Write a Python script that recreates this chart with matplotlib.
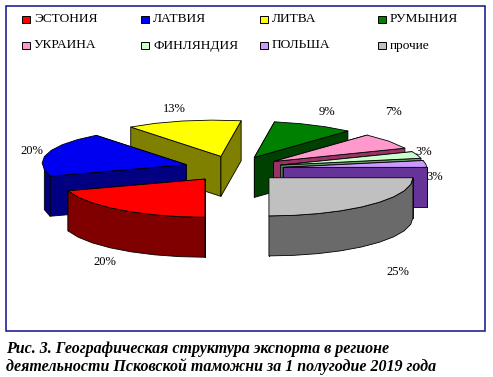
import numpy as np
import matplotlib
matplotlib.use('Agg')
import matplotlib.pyplot as plt
from matplotlib.patches import Polygon, Rectangle

countries = ['ЭСТОНИЯ', 'ЛАТВИЯ', 'ЛИТВА', 'РУМЫНИЯ', 'УКРАИНА', 'ФИНЛЯНДИЯ', 'ПОЛЬША', 'прочие']
shares = [20, 20, 13, 9, 7, 3, 3, 25]
top_colors = ['#ff0000', '#0000f0', '#ffff00', '#008000', '#ff99cc', '#ccffcc', '#cc99ff', '#c0c0c0']
side_colors = ['#800000', '#000080', '#808000', '#004000', '#993366', '#669966', '#663399', '#6a6a6a']
caption = ['Рис. 3. Географическая структура экспорта в регионе',
           'деятельности Псковской таможни за 1 полугодие 2019 года']

# pie geometry in pixels
cx, cy = 234, 168.5
radius = 144
squash = 0.265
explode = 49.4
depth = 40
skew = 0.18
back_squeeze = 0.95
arc_step = 10

plt.rcParams['font.family'] = ['Liberation Serif', 'DejaVu Serif']

fig = plt.figure(figsize=(4.93, 3.77), dpi=100)
ax = fig.add_axes([0, 0, 1, 1])
ax.set_xlim(0, 493)
ax.set_ylim(377, 0)
ax.axis('off')

ax.add_patch(Rectangle((5.5, 5.5), 479.5, 325.5, fill=False, edgecolor='#10108a', linewidth=1.1))


def to_screen(ax0, ay0, angle, r):
    # angle in degrees, clockwise from the bottom of the pie
    t = np.radians(angle)
    x = ax0 - r * np.sin(t)
    y = ay0 + r * np.cos(t) * squash
    # back of the pie leans to the left and is a little flatter
    above = np.minimum(y - cy, 0)
    x = x + skew * above
    y = y - (1 - back_squeeze) * above
    return x, y


def wall(xs, ys, color, zorder):
    xs = np.asarray(xs)
    ys = np.asarray(ys)
    px = np.r_[xs, xs[::-1]]
    py = np.r_[ys, ys[::-1] + depth]
    ax.add_patch(Polygon(np.c_[px, py], closed=True, facecolor=color, edgecolor='black',
                         linewidth=0.6, joinstyle='round', zorder=zorder))


edges = np.cumsum([0] + shares) / sum(shares) * 360
# right side is stacked from the back, then the left side
draw_order = [3, 4, 5, 6, 7, 2, 1, 0]

for z, i in enumerate(draw_order):
    start, end = edges[i], edges[i + 1]
    mid = (start + end) / 2
    ax0 = cx - explode * np.sin(np.radians(mid))
    ay0 = cy + explode * np.cos(np.radians(mid)) * squash
    apex_x, apex_y = to_screen(ax0, ay0, 0, 0)

    base = z * 10
    for a in (start, end):
        ex, ey = to_screen(ax0, ay0, a, radius)
        wall([apex_x, ex], [apex_y, ey], side_colors[i], base + (1 if ey > apex_y else 0))

    # outer wall only where it faces the viewer
    arc = np.linspace(start, end, max(3, int((end - start) / arc_step) + 1))
    front = np.cos(np.radians(arc)) >= -1e-6
    if front.any():
        fx, fy = to_screen(ax0, ay0, arc[front], radius)
        wall(fx, fy, side_colors[i], base + 2)

    tx, ty = to_screen(ax0, ay0, arc, radius)
    ax.add_patch(Polygon(np.c_[np.r_[apex_x, tx], np.r_[apex_y, ty]], closed=True,
                         facecolor=top_colors[i], edgecolor='black', linewidth=0.6,
                         joinstyle='round', zorder=base + 3))

# percent labels
label_xy = [(105, 262), (32, 151), (174, 109), (327, 112), (393, 112), (424, 152), (435, 177), (398, 272)]
for value, (lx, ly) in zip(shares, label_xy):
    ax.text(lx, ly, f'{value}%', fontsize=9, ha='center', va='center', color='black', zorder=200)

# legend
legend_x = [22, 141, 260, 378]
legend_y = [19.5, 45.5]
for i, name in enumerate(countries):
    lx = legend_x[i % 4]
    ly = legend_y[i // 4]
    ax.add_patch(Rectangle((lx, ly - 3.5), 7.5, 7, facecolor=top_colors[i], edgecolor='black',
                           linewidth=0.7, zorder=200))
    ax.text(lx + 12, ly, name, fontsize=9.6, ha='left', va='center', color='black', zorder=200)

# caption
ax.text(6, 349, caption[0], fontsize=11.5, style='italic', weight='bold', ha='left', va='center')
ax.text(6, 367, caption[1], fontsize=11.5, style='italic', weight='bold', ha='left', va='center')

fig.savefig('out.png', dpi=100, facecolor='white')
